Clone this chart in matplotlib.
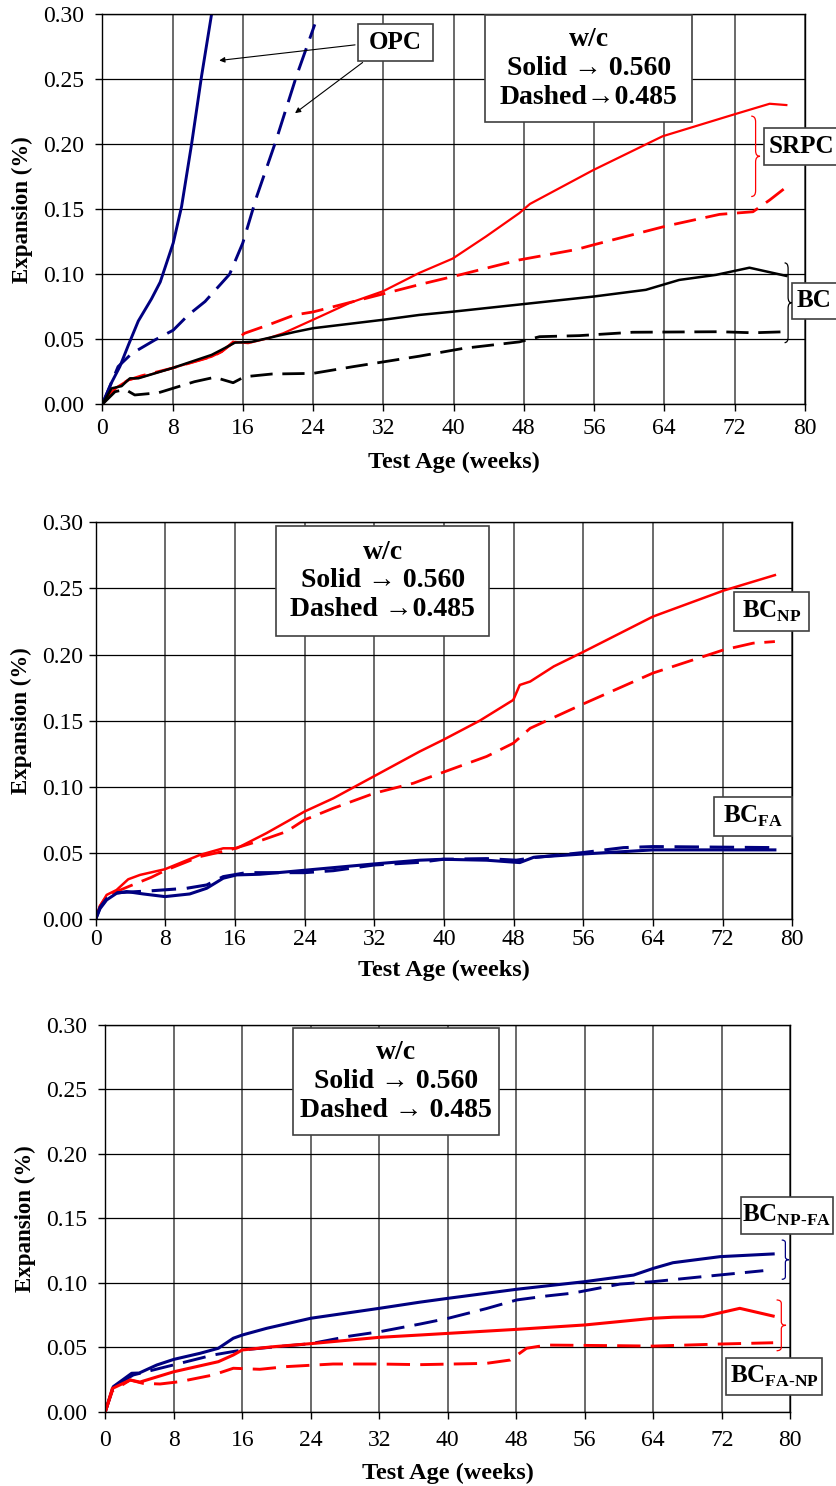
import numpy as np
import matplotlib
matplotlib.use("Agg")
import matplotlib.pyplot as plt
from matplotlib.patches import Rectangle, PathPatch
from matplotlib.path import Path
from matplotlib.ticker import FormatStrFormatter

plt.rcParams['font.family'] = ['Liberation Serif', 'DejaVu Serif']
plt.rcParams['mathtext.fontset'] = 'custom'
plt.rcParams['mathtext.rm'] = 'Liberation Serif:bold'
plt.rcParams['mathtext.bf'] = 'Liberation Serif:bold'

NAVY = '#000080'
RED = '#ff0000'

# ---- panel 1: OPC, SRPC, BC ----
opc_s_x = [0, 0.5, 1.0, 2.0, 3.0, 4.1, 5.6, 6.6, 8.08, 9.03, 10.17, 11.3, 12.45]
opc_s_y = [0, 0.008, 0.016, 0.029, 0.046, 0.064, 0.081, 0.094, 0.124, 0.152, 0.2, 0.252, 0.30]
opc_d_x = [0, 1.0, 1.8, 3.35, 6.0, 8.08, 9.8, 11.7, 14.5, 16.0, 17.6, 19.8, 22.1, 24.2]
opc_d_y = [0, 0.016, 0.029, 0.039, 0.0495, 0.057, 0.0687, 0.079, 0.10, 0.124, 0.16, 0.203, 0.252, 0.292]
srpc_s_x = [0, 1.45, 2.96, 4.5, 7.9, 12.45, 13.6, 15.1, 16.6, 18.9, 20.6, 24, 28.2, 32, 36.1,
            39.9, 43.7, 47.5, 48.7, 55.9, 63.8, 71.8, 76, 77.9]
srpc_s_y = [0, 0.0123, 0.0187, 0.021, 0.0277, 0.0366, 0.0405, 0.048, 0.047, 0.0508, 0.0546, 0.065,
            0.078, 0.087, 0.101, 0.112, 0.129, 0.147, 0.154, 0.18, 0.206, 0.2225, 0.231, 0.230]
srpc_d_x = [0, 1.45, 2.96, 4.5, 7.9, 12.45, 13.6, 15.1, 16.2, 18.9, 21.9, 24, 28.6, 36.1, 40.7,
            47.5, 54.0, 55.9, 64.2, 70.3, 74.1, 76.0, 77.9]
srpc_d_y = [0, 0.012, 0.0187, 0.022, 0.0277, 0.0366, 0.0405, 0.049, 0.0546, 0.061, 0.0687, 0.071,
            0.079, 0.092, 0.0995, 0.111, 0.119, 0.1225, 0.137, 0.146, 0.148, 0.157, 0.167]
bc_s_x = [0, 1.07, 2.2, 3.15, 4.1, 7.9, 12.45, 13.6, 15.1, 17.0, 21.9, 24, 32, 36.1, 39.9, 47.9,
          55.9, 61.9, 65.7, 69.9, 73.7, 77.9]
bc_s_y = [0, 0.0123, 0.014, 0.02, 0.02, 0.0277, 0.038, 0.042, 0.0474, 0.048, 0.0556, 0.0585, 0.065,
          0.0687, 0.0712, 0.077, 0.0828, 0.088, 0.0956, 0.0995, 0.105, 0.0987]
bc_d_x = [0, 1.45, 2.6, 3.7, 6.4, 10.5, 12.8, 14.9, 16.2, 19.3, 24, 28.6, 36.1, 41.1, 47.5, 49.8,
          54.3, 60.4, 70.3, 74.1, 77.9]
bc_d_y = [0, 0.0097, 0.0115, 0.0072, 0.0089, 0.0174, 0.0208, 0.0166, 0.0212, 0.0233, 0.0238, 0.029,
          0.037, 0.043, 0.048, 0.052, 0.0528, 0.0554, 0.0558, 0.055, 0.0558]

# ---- panel 2: BC_NP, BC_FA ----
np_s_x = [0, 0.5, 1.26, 2.4, 3.74, 5.1, 7.96, 11.97, 14.65, 16.2, 19.6, 22.3, 23.96, 27.3, 31.9,
          37.2, 39.9, 44.1, 47.96, 48.7, 49.9, 52.6, 56.0, 64.0, 72.1, 78]
np_s_y = [0, 0.010, 0.0184, 0.0221, 0.0302, 0.0335, 0.0378, 0.0486, 0.0536, 0.0536, 0.065, 0.075,
          0.0813, 0.0914, 0.1078, 0.1267, 0.1355, 0.150, 0.1657, 0.177, 0.1796, 0.191, 0.202,
          0.2287, 0.2483, 0.260]
np_d_x = [0, 0.5, 1.26, 2.4, 3.74, 6.4, 8.1, 11.97, 15.4, 19.2, 21.9, 23.96, 27.3, 32, 36.5, 38,
          44.9, 47.96, 49.9, 56.0, 64, 72.1, 75.5, 78]
np_d_y = [0, 0.010, 0.0175, 0.0209, 0.0246, 0.0317, 0.0372, 0.0473, 0.0524, 0.06, 0.0662, 0.075,
          0.0839, 0.0952, 0.1028, 0.1065, 0.123, 0.133, 0.1443, 0.1627, 0.186, 0.2035, 0.2086, 0.2098]
fa_s_x = [0, 0.5, 1.26, 2.4, 3.56, 5.47, 7.96, 10.8, 12.75, 14.65, 16.2, 18.9, 22.3, 32, 37.2,
          39.9, 44.9, 48.7, 50.3, 56, 64, 78]
fa_s_y = [0, 0.008, 0.0146, 0.0196, 0.0209, 0.0191, 0.0171, 0.0191, 0.0234, 0.031, 0.0335, 0.034,
          0.036, 0.0418, 0.0446, 0.0453, 0.0446, 0.0428, 0.0468, 0.0493, 0.0524, 0.0524]
fa_d_x = [0, 0.5, 1.26, 2.4, 5.1, 6.4, 10.45, 12.75, 14.65, 17.3, 19.6, 23.96, 27.3, 32, 37.2,
          39.9, 44.9, 48.3, 50.3, 56, 60.6, 64, 78]
fa_d_y = [0, 0.009, 0.0155, 0.02, 0.021, 0.0215, 0.0234, 0.0259, 0.0322, 0.0352, 0.0352, 0.0352,
          0.0367, 0.041, 0.043, 0.0453, 0.0458, 0.0446, 0.0466, 0.0504, 0.0541, 0.0549, 0.0541]

# ---- panel 3: BC_NP-FA, BC_FA-NP ----
npfa_s_x = [0, 0.93, 3.08, 3.96, 6.0, 8.0, 11.06, 13.2, 14.95, 16.0, 18.85, 24.0, 32.0, 36.75,
            40.06, 48.05, 56.0, 61.7, 64.0, 66.3, 71.8, 78.0]
npfa_s_y = [0, 0.0194, 0.0298, 0.030, 0.0362, 0.0406, 0.0453, 0.0492, 0.057, 0.0595, 0.0647,
            0.0725, 0.0802, 0.085, 0.088, 0.095, 0.1009, 0.106, 0.1112, 0.1156, 0.1203, 0.1224]
npfa_d_x = [0, 0.93, 3.27, 6.4, 8.7, 12.6, 16.0, 20.0, 24.0, 28.6, 32.0, 36.75, 40.06, 44.5,
            48.05, 51.55, 54.6, 60.1, 64.0, 69.8, 76.85]
npfa_d_y = [0, 0.0194, 0.0285, 0.0337, 0.0375, 0.044, 0.0479, 0.0504, 0.0528, 0.0587, 0.062,
            0.068, 0.0725, 0.080, 0.0867, 0.0898, 0.092, 0.099, 0.1009, 0.1048, 0.1094]
fanp_s_x = [0, 0.82, 2.9, 4.05, 8.0, 13.2, 14.95, 16.0, 19.6, 24.0, 32.0, 36.75, 48.05, 56.0,
            64.0, 66.3, 69.8, 74.1, 78.0]
fanp_s_y = [0, 0.018, 0.0246, 0.023, 0.031, 0.0388, 0.044, 0.0479, 0.0504, 0.0528, 0.0577,
            0.0595, 0.0639, 0.0673, 0.0725, 0.0733, 0.0737, 0.0802, 0.0742]
fanp_d_x = [0, 0.82, 2.9, 4.4, 6.4, 8.7, 12.6, 14.95, 18.05, 21.2, 26.6, 32, 36.75, 44.5, 47.3,
            49.2, 51.55, 60.1, 64, 71.8, 78]
fanp_d_y = [0, 0.016, 0.0246, 0.022, 0.0215, 0.0233, 0.0285, 0.0337, 0.0329, 0.035, 0.037, 0.037,
            0.0365, 0.0375, 0.0401, 0.0492, 0.0517, 0.0512, 0.0509, 0.0525, 0.0535]

x_ticks = list(range(0, 81, 8))
y_ticks = [0.0, 0.05, 0.10, 0.15, 0.20, 0.25, 0.30]
DASH = (0, (8, 3.5))


def setup_axes(ax, xpad, ypad, xlab_y, ylab_x):
    ax.set_xlim(0, 80)
    ax.set_ylim(0, 0.30)
    ax.set_xticks(x_ticks)
    ax.set_yticks(y_ticks)
    ax.yaxis.set_major_formatter(FormatStrFormatter('%.2f'))
    ax.tick_params(axis='both', direction='out', length=5, width=1, labelsize=17,
                   top=False, right=False)
    ax.tick_params(axis='x', pad=xpad)
    ax.tick_params(axis='y', pad=ypad)
    ax.yaxis.grid(True, color='black', lw=0.9)
    ax.xaxis.grid(True, color='#505050', lw=1.2)
    for s in ax.spines.values():
        s.set_color('black')
        s.set_linewidth(1.0)
    ax.set_xlabel('Test Age (weeks)', fontsize=17.5, fontweight='bold')
    ax.set_ylabel('Expansion (%)', fontsize=16.5, fontweight='bold')
    ax.xaxis.set_label_coords(0.5, xlab_y)
    ax.xaxis.label.set_va('center')
    ax.yaxis.set_label_coords(ylab_x, 0.5)
    ax.yaxis.label.set_va('center')


def label_box(ax, x0, x1, y0, y1, text, fs=18, ls=1.2, tx=None, ty=None):
    ax.add_patch(Rectangle((x0, y0), x1 - x0, y1 - y0, facecolor='white',
                           edgecolor='#404040', lw=1.2, clip_on=False, zorder=5))
    cx = (x0 + x1) / 2 if tx is None else tx
    cy = (y0 + y1) / 2 if ty is None else ty
    ax.text(cx, cy, text, ha='center', va='center', fontsize=fs, fontweight='bold',
            linespacing=ls, zorder=6, clip_on=False)


def brace(ax, x0, x1, ytop, ybot, color):
    xm = (x0 + x1) / 2
    ym = (ytop + ybot) / 2
    h = (ytop - ybot) * 0.07
    verts = [(x0, ytop), (xm, ytop), (xm, ytop - h), (xm, ym + h), (xm, ym), (x1, ym),
             (xm, ym), (xm, ym - h), (xm, ybot + h), (xm, ybot), (x0, ybot)]
    codes = [Path.MOVETO, Path.CURVE3, Path.CURVE3, Path.LINETO, Path.CURVE3, Path.CURVE3,
             Path.CURVE3, Path.CURVE3, Path.LINETO, Path.CURVE3, Path.CURVE3]
    ax.add_patch(PathPatch(Path(verts, codes), facecolor='none', edgecolor=color,
                           lw=0.9, clip_on=False, zorder=5))


fig = plt.figure(figsize=(8.37, 14.86), dpi=100)

# panel 1
ax1 = fig.add_axes([0.1222, 0.7279, 0.8393, 0.2627])
ax1.plot(opc_s_x, opc_s_y, color=NAVY, lw=2.1)
ax1.plot(opc_d_x, opc_d_y, color=NAVY, lw=2.1, linestyle=DASH)
ax1.plot(srpc_s_x, srpc_s_y, color=RED, lw=1.6)
ax1.plot(srpc_d_x, srpc_d_y, color=RED, lw=2.0, linestyle=DASH)
ax1.plot(bc_s_x, bc_s_y, color='black', lw=1.8)
ax1.plot(bc_d_x, bc_d_y, color='black', lw=2.0, linestyle=DASH)
setup_axes(ax1, 5, 8, -0.150, -0.114)
label_box(ax1, 43.6, 67.2, 0.217, 0.2995, 'w/c\nSolid \u2192 0.560\nDashed\u21920.485', fs=20)
label_box(ax1, 29.1, 37.7, 0.264, 0.2925, 'OPC')
ax1.annotate('', xy=(13.0, 0.264), xytext=(29.1, 0.2765),
             arrowprops=dict(arrowstyle='-|>', color='black', lw=0.8, mutation_scale=8))
ax1.annotate('', xy=(21.7, 0.2225), xytext=(29.9, 0.264),
             arrowprops=dict(arrowstyle='-|>', color='black', lw=0.8, mutation_scale=8))
label_box(ax1, 75.3, 84.5, 0.1842, 0.2123, 'SRPC', tx=79.6)
label_box(ax1, 78.5, 84.5, 0.0656, 0.0935, 'BC', tx=81.1)
brace(ax1, 73.9, 74.9, 0.2215, 0.1597, RED)
brace(ax1, 77.7, 78.5, 0.1087, 0.0474, 'black')

# panel 2
ax2 = fig.add_axes([0.1143, 0.3814, 0.8323, 0.2672])
ax2.plot(np_s_x, np_s_y, color=RED, lw=1.8)
ax2.plot(np_d_x, np_d_y, color=RED, lw=2.0, linestyle=DASH)
ax2.plot(fa_s_x, fa_s_y, color=NAVY, lw=2.2)
ax2.plot(fa_d_x, fa_d_y, color=NAVY, lw=2.2, linestyle=DASH)
setup_axes(ax2, 2, 4, -0.128, -0.106)
label_box(ax2, 20.7, 45.2, 0.2139, 0.2974, 'w/c\nSolid \u2192 0.560\nDashed \u21920.485', fs=20)
label_box(ax2, 73.3, 81.95, 0.2179, 0.2471, 'BC$_{\\mathrm{NP}}$')
label_box(ax2, 71.04, 79.93, 0.0632, 0.0922, 'BC$_{\\mathrm{FA}}$')

# panel 3
ax3 = fig.add_axes([0.1258, 0.0500, 0.8184, 0.2602])
ax3.plot(npfa_s_x, npfa_s_y, color=NAVY, lw=2.2)
ax3.plot(npfa_d_x, npfa_d_y, color=NAVY, lw=2.1, linestyle=DASH)
ax3.plot(fanp_s_x, fanp_s_y, color=RED, lw=2.2)
ax3.plot(fanp_d_x, fanp_d_y, color=RED, lw=2.1, linestyle=DASH)
setup_axes(ax3, 8, 8, -0.159, -0.117)
label_box(ax3, 21.9, 46.0, 0.2147, 0.2979, 'w/c\nSolid \u2192 0.560\nDashed \u2192 0.485', fs=20)
label_box(ax3, 74.2, 85.0, 0.1376, 0.1663, 'BC$_{\\mathrm{NP}\\text{-}\\mathrm{FA}}$')
label_box(ax3, 72.5, 83.7, 0.013, 0.0414, 'BC$_{\\mathrm{FA}\\text{-}\\mathrm{NP}}$')
brace(ax3, 79.0, 79.85, 0.1332, 0.1027, NAVY)
brace(ax3, 78.4, 79.5, 0.0867, 0.0473, RED)

fig.savefig('out.png', dpi=100)
